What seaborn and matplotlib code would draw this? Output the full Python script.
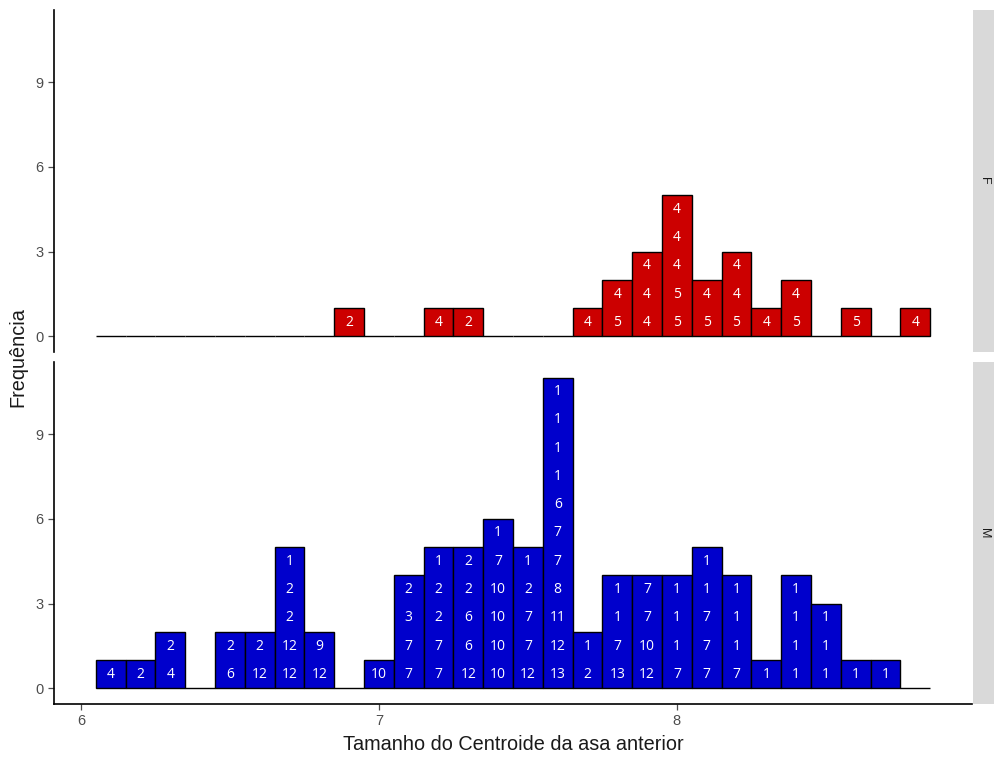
import numpy as np
import pandas as pd
import matplotlib
matplotlib.use("Agg")
import matplotlib.pyplot as plt
import seaborn as sns

# Bin centres (width 0.1) and the specimen codes stacked in each bin, bottom to top
f_centers = [6.9, 7.2, 7.3, 7.7, 7.8, 7.9, 8.0, 8.1, 8.2, 8.3, 8.4, 8.6, 8.8]
f_codes = [
    [2], [4], [2], [4], [5, 4], [4, 4, 4], [5, 5, 4, 4, 4],
    [5, 4], [5, 4, 4], [4], [5, 4], [5], [4],
]

m_centers = [6.1, 6.2, 6.3, 6.5, 6.6, 6.7, 6.8, 7.0, 7.1, 7.2, 7.3, 7.4, 7.5,
             7.6, 7.7, 7.8, 7.9, 8.0, 8.1, 8.2, 8.3, 8.4, 8.5, 8.6, 8.7]
m_codes = [
    [4], [2], [4, 2], [6, 2], [12, 2], [12, 12, 2, 2, 1], [12, 9],
    [10], [7, 7, 3, 2], [7, 7, 2, 2, 1], [12, 6, 6, 2, 2],
    [10, 10, 10, 10, 7, 1], [12, 7, 7, 2, 1],
    [13, 12, 11, 8, 7, 7, 6, 1, 1, 1, 1], [2, 1], [13, 7, 1, 1],
    [12, 10, 7, 7], [7, 1, 1, 1], [7, 7, 7, 1, 1], [7, 1, 1, 1],
    [1], [1, 1, 1, 1], [1, 1, 1], [1], [1],
]

facets = ["F", "M"]
fills = {"F": "#CC0000", "M": "#0000CC"}
y_ticks = [0, 3, 6, 9]
x_ticks = [6, 7, 8]

edges = np.round(np.arange(6.05, 8.851, 0.1), 2)


def expand(centers, codes):
    return pd.DataFrame({
        "tamanho": [c for c, ids in zip(centers, codes) for _ in ids],
        "codigo": [i for ids in codes for i in ids],
    })


data = {"F": (f_centers, f_codes), "M": (m_centers, m_codes)}

sns.set_style("ticks")
plt.rcParams["font.family"] = ["Liberation Sans", "DejaVu Sans"]

W, H = 995, 758
fig = plt.figure(figsize=(W / 100, H / 100), dpi=100)

left, right = 54 / W, 972 / W
panel_px = {"F": (10, 352), "M": (362, 704)}
tick_color = "#4d4d4d"

for name in facets:
    top_px, bot_px = panel_px[name]
    ax = fig.add_axes([left, 1 - bot_px / H, right - left, (bot_px - top_px) / H])
    centers, codes = data[name]
    df = expand(centers, codes)
    sns.histplot(data=df, x="tamanho", bins=edges, stat="count",
                 color=fills[name], alpha=1, edgecolor="black",
                 linewidth=1.0, ax=ax)

    for c, ids in zip(centers, codes):
        for k, code in enumerate(ids):
            ax.text(c, k + 0.5, str(code), ha="center", va="center",
                    color="white", fontsize=10, family="Open Sans")

    ax.set_xlim(5.91, 8.99)
    ax.set_ylim(-0.55, 11.55)
    ax.set_yticks(y_ticks)
    ax.set_ylabel("")
    ax.set_xlabel("")
    ax.spines["top"].set_visible(False)
    ax.spines["right"].set_visible(False)
    ax.spines["left"].set_linewidth(1.2)
    ax.spines["left"].set_color("black")
    ax.tick_params(axis="both", colors=tick_color, labelsize=10.5,
                   length=4, width=0.9)
    if name == "F":
        ax.spines["bottom"].set_visible(False)
        ax.set_xticks([])
    else:
        ax.spines["bottom"].set_linewidth(1.2)
        ax.spines["bottom"].set_color("black")
        ax.set_xticks(x_ticks)
        ax.set_xticklabels([str(t) for t in x_ticks])

    # facet strip on the right
    sax = fig.add_axes([973 / W, 1 - bot_px / H, 22 / W, (bot_px - top_px) / H])
    sax.set_facecolor("#d9d9d9")
    for s in sax.spines.values():
        s.set_visible(False)
    sax.set_xticks([])
    sax.set_yticks([])
    sax.text(0.5, 0.5, name, rotation=-90, ha="center", va="center",
             fontsize=9, color="#1a1a1a", transform=sax.transAxes)

fig.text((left + right) / 2, 1 - 745 / H, "Tamanho do Centroide da asa anterior",
         ha="center", va="center", fontsize=14.3, color="#1a1a1a")
fig.text(18 / W, 1 - 357 / H, "Frequência", rotation=90,
         ha="center", va="center", fontsize=14.3, color="#1a1a1a")

fig.savefig("out.png", dpi=100)
